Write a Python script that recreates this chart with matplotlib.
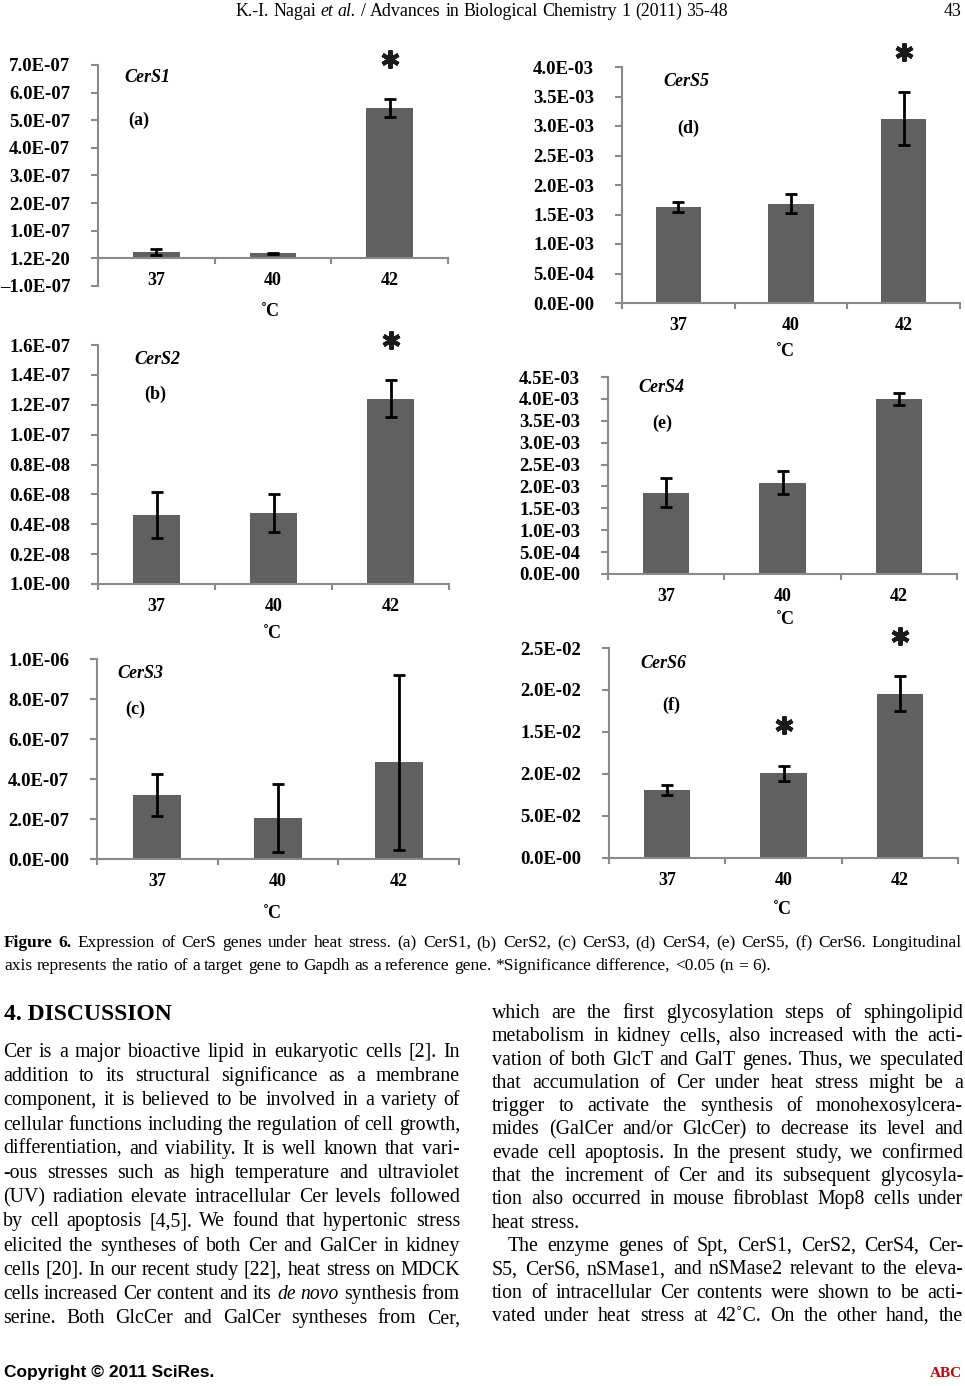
import numpy as np
import matplotlib.pyplot as plt
from matplotlib.transforms import offset_copy

plt.rcParams['font.family'] = 'Liberation Serif'

W, H = 965, 1386
fig = plt.figure(figsize=(W / 100, H / 100), dpi=100)
renderer = fig.canvas.get_renderer()


def fx(x):
    return x / W


def fy(y):
    return 1 - y / H


# ---------------- data ----------------
temps = ['37', '40', '42']

cers1_mean = [2.3e-8, 1.8e-8, 5.43e-7]
cers1_err = [1.2e-8, 0.25e-8, 3.3e-8]
cers1_sig = [False, False, True]
cers1_yticks = [-1e-7, 0, 1e-7, 2e-7, 3e-7, 4e-7, 5e-7, 6e-7, 7e-7]
cers1_ylabels = ['–1.0E-07', '1.2E-20', '1.0E-07', '2.0E-07', '3.0E-07',
                 '4.0E-07', '5.0E-07', '6.0E-07', '7.0E-07']

cers2_mean = [4.6e-8, 4.73e-8, 1.24e-7]
cers2_err = [1.53e-8, 1.27e-8, 1.23e-8]
cers2_sig = [False, False, True]
cers2_yticks = [0, 0.2e-7, 0.4e-7, 0.6e-7, 0.8e-7, 1.0e-7, 1.2e-7, 1.4e-7, 1.6e-7]
cers2_ylabels = ['1.0E-00', '0.2E-08', '0.4E-08', '0.6E-08', '0.8E-08',
                 '1.0E-07', '1.2E-07', '1.4E-07', '1.6E-07']

cers3_mean = [3.22e-7, 2.05e-7, 4.83e-7]
cers3_err = [1.05e-7, 1.7e-7, 4.37e-7]
cers3_sig = [False, False, False]
cers3_yticks = [0, 2e-7, 4e-7, 6e-7, 8e-7, 1e-6]
cers3_ylabels = ['0.0E-00', '2.0E-07', '4.0E-07', '6.0E-07', '8.0E-07', '1.0E-06']

cers5_mean = [1.63e-3, 1.68e-3, 3.12e-3]
cers5_err = [0.09e-3, 0.16e-3, 0.45e-3]
cers5_sig = [False, False, True]
cers5_yticks = [0, 0.5e-3, 1.0e-3, 1.5e-3, 2.0e-3, 2.5e-3, 3.0e-3, 3.5e-3, 4.0e-3]
cers5_ylabels = ['0.0E-00', '5.0E-04', '1.0E-03', '1.5E-03', '2.0E-03',
                 '2.5E-03', '3.0E-03', '3.5E-03', '4.0E-03']

cers4_mean = [1.86e-3, 2.09e-3, 3.99e-3]
cers4_err = [0.33e-3, 0.26e-3, 0.14e-3]
cers4_sig = [False, False, False]
cers4_yticks = [0, 0.5e-3, 1.0e-3, 1.5e-3, 2.0e-3, 2.5e-3, 3.0e-3, 3.5e-3, 4.0e-3, 4.5e-3]
cers4_ylabels = ['0.0E-00', '5.0E-04', '1.0E-03', '1.5E-03', '2.0E-03',
                 '2.5E-03', '3.0E-03', '3.5E-03', '4.0E-03', '4.5E-03']

cers6_mean = [0.81e-2, 1.01e-2, 1.955e-2]
cers6_err = [0.065e-2, 0.09e-2, 0.21e-2]
cers6_sig = [False, True, True]
cers6_yticks = [0, 0.5e-2, 1.0e-2, 1.5e-2, 2.0e-2, 2.5e-2]
cers6_ylabels = ['0.0E-00', '5.0E-02', '2.0E-02', '1.5E-02', '2.0E-02', '2.5E-02']

BAR = '#606060'
AXIS = '#8a8a8a'

# panel layout: axes box in page pixels (left, top, right, bottom), label spots
panels = [
    dict(name='CerS1', tag='(a)', mean=cers1_mean, err=cers1_err, sig=cers1_sig,
         yticks=cers1_yticks, ylabels=cers1_ylabels, box=(98, 65, 448, 286),
         name_xy=(147, 78), tag_xy=(139, 120), unit_xy=(270, 312)),
    dict(name='CerS2', tag='(b)', mean=cers2_mean, err=cers2_err, sig=cers2_sig,
         yticks=cers2_yticks, ylabels=cers2_ylabels, box=(98, 345, 449, 584),
         name_xy=(157, 359), tag_xy=(155, 394), unit_xy=(272, 633)),
    dict(name='CerS3', tag='(c)', mean=cers3_mean, err=cers3_err, sig=cers3_sig,
         yticks=cers3_yticks, ylabels=cers3_ylabels, box=(97, 659, 459, 859),
         name_xy=(140, 673), tag_xy=(135, 709), unit_xy=(272, 913)),
    dict(name='CerS5', tag='(d)', mean=cers5_mean, err=cers5_err, sig=cers5_sig,
         yticks=cers5_yticks, ylabels=cers5_ylabels, box=(622, 67, 960, 303),
         name_xy=(686, 82), tag_xy=(688, 128), unit_xy=(785, 352)),
    dict(name='CerS4', tag='(e)', mean=cers4_mean, err=cers4_err, sig=cers4_sig,
         yticks=cers4_yticks, ylabels=cers4_ylabels, box=(608, 377, 957, 574),
         name_xy=(661, 388), tag_xy=(662, 423), unit_xy=(785, 620)),
    dict(name='CerS6', tag='(f)', mean=cers6_mean, err=cers6_err, sig=cers6_sig,
         yticks=cers6_yticks, ylabels=cers6_ylabels, box=(609, 648, 958, 858),
         name_xy=(663, 664), tag_xy=(671, 705), unit_xy=(782, 910)),
]

for p in panels:
    l, t, r, b = p['box']
    ax = fig.add_axes([fx(l), fy(b), (r - l) / W, (b - t) / H])
    ax.patch.set_alpha(0)
    # spines first: moving the bottom spine resets the ticks
    for s in ['top', 'right']:
        ax.spines[s].set_visible(False)
    for s in ['left', 'bottom']:
        ax.spines[s].set_color(AXIS)
        ax.spines[s].set_linewidth(1.5)
    ax.spines['bottom'].set_position(('data', 0))

    x = np.arange(len(temps))
    ax.bar(x, p['mean'], width=0.4, color=BAR, zorder=2)
    ax.errorbar(x, p['mean'], yerr=p['err'], fmt='none', ecolor='black',
                elinewidth=2, capsize=4.5, capthick=2, zorder=3)
    ax.set_xlim(-0.5, 2.5)
    ax.set_ylim(p['yticks'][0], p['yticks'][-1])
    ax.set_yticks(p['yticks'])
    ax.set_yticklabels(p['ylabels'], fontweight='bold')
    ax.set_xticks(x)
    ax.set_xticklabels(temps, fontweight='bold')
    ax.set_xticks([-0.5, 0.5, 1.5, 2.5], minor=True)
    ax.tick_params(axis='x', which='major', length=0, pad=10, labelsize=13)
    ax.tick_params(axis='x', which='minor', length=4, width=1.5, color=AXIS)
    ax.tick_params(axis='y', length=5, width=1.5, color=AXIS, pad=15, labelsize=13.5)

    # significance asterisks above the error bars
    star_tr = offset_copy(ax.transData, fig=fig, y=29, units='points')
    for i, s in enumerate(p['sig']):
        if s:
            ax.plot(i, p['mean'][i] + p['err'][i], marker=(6, 2, 0), ms=13,
                    mew=3, color='#1a1a1a', transform=star_tr, clip_on=False)

    fig.text(fx(p['name_xy'][0]), fy(p['name_xy'][1]), p['name'], style='italic',
             weight='bold', fontsize=13, ha='center', va='center')
    fig.text(fx(p['tag_xy'][0]), fy(p['tag_xy'][1]), p['tag'], weight='bold',
             fontsize=13, ha='center', va='center')
    fig.text(fx(p['unit_xy'][0]), fy(p['unit_xy'][1]), '˚C', weight='bold',
             fontsize=13, ha='center', va='center')


# ---------------- page text ----------------
def parse(word):
    if word.startswith('§'):
        return word[1:], dict(weight='bold')
    if word.startswith('_'):
        return word[1:], dict(style='italic')
    return word, {}


def width_of(s, size, **kw):
    t = fig.text(0, 0, s, fontsize=size, **kw)
    w = t.get_window_extent(renderer).width
    t.remove()
    return w


def natural(line, size):
    words = [parse(w) for w in line.split()]
    sp = width_of('a a', size) - width_of('aa', size)
    return sum(width_of(w, size, **k) for w, k in words) + sp * (len(words) - 1)


def draw_line(line, x0, x1, y, size, justify=True, align='left', **extra):
    words = [parse(w) for w in line.split()]
    ws = [width_of(w, size, **k, **extra) for w, k in words]
    sp = width_of('a a', size, **extra) - width_of('aa', size, **extra)
    if justify and len(words) > 1:
        gap = (x1 - x0 - sum(ws)) / (len(words) - 1)
    else:
        gap = sp
    total = sum(ws) + gap * (len(words) - 1)
    if align == 'center':
        x = (x0 + x1) / 2 - total / 2
    elif align == 'right':
        x = x1 - total
    else:
        x = x0
    for (w, k), wd in zip(words, ws):
        fig.text(fx(x), fy(y), w, fontsize=size, ha='left', va='baseline', **k, **extra)
        x += wd + gap


# header
header = "K.-I. Nagai _et _al. / Advances in Biological Chemistry 1 (2011) 35-48"
hsize = 12 * 493 / natural(header, 12)
draw_line(header, 235, 728, 16, hsize, justify=False, align='center')
fig.text(fx(962), fy(16), '43', fontsize=hsize, ha='right', va='baseline')

# caption
cap1 = ("§Figure §6. Expression of CerS genes under heat stress. (a) CerS1, (b) CerS2, "
        "(c) CerS3, (d) CerS4, (e) CerS5, (f) CerS6. Longitudinal")
cap2 = ("axis represents the ratio of a target gene to Gapdh as a reference gene. "
        "*Significance difference, <0.05 (n = 6).")
csize = min(12.5, 12.5 * 950 / natural(cap1, 12.5))
draw_line(cap1, 4, 962, 947, csize)
draw_line(cap2, 4, 962, 970, csize, justify=False)

# section heading
fig.text(fx(4), fy(1020), '4. DISCUSSION', fontsize=17, weight='bold', ha='left', va='baseline')

left_lines = [
    "Cer is a major bioactive lipid in eukaryotic cells [2]. In",
    "addition to its structural significance as a membrane",
    "component, it is believed to be involved in a variety of",
    "cellular functions including the regulation of cell growth,",
    "differentiation, and viability. It is well known that vari-",
    "-ous stresses such as high temperature and ultraviolet",
    "(UV) radiation elevate intracellular Cer levels followed",
    "by cell apoptosis [4,5]. We found that hypertonic stress",
    "elicited the syntheses of both Cer and GalCer in kidney",
    "cells [20]. In our recent study [22], heat stress on MDCK",
    "cells increased Cer content and its _de _novo synthesis from",
    "serine. Both GlcCer and GalCer syntheses from Cer,",
]
right_lines = [
    "which are the first glycosylation steps of sphingolipid",
    "metabolism in kidney cells, also increased with the acti-",
    "vation of both GlcT and GalT genes. Thus, we speculated",
    "that accumulation of Cer under heat stress might be a",
    "trigger to activate the synthesis of monohexosylcera-",
    "mides (GalCer and/or GlcCer) to decrease its level and",
    "evade cell apoptosis. In the present study, we confirmed",
    "that the increment of Cer and its subsequent glycosyla-",
    "tion also occurred in mouse fibroblast Mop8 cells under",
    "heat stress.",
    "The enzyme genes of Spt, CerS1, CerS2, CerS4, Cer-",
    "S5, CerS6, nSMase1, and nSMase2 relevant to the eleva-",
    "tion of intracellular Cer contents were shown to be acti-",
    "vated under heat stress at 42˚C. On the other hand, the",
]

body = []
for i, line in enumerate(left_lines):
    body.append((line, 3, 460, 1052 + i * 24.2 + 5, True))
for i, line in enumerate(right_lines):
    x0 = 508 if i == 10 else 492
    body.append((line, x0, 963, 1013 + i * 23.3 + 5, i != 9))

base = 14.5
ratios = sorted((x1 - x0) / natural(line, base) for line, x0, x1, y, j in body if j)
bsize = base * min(1.0, ratios[2] * 0.995)
for line, x0, x1, y, j in body:
    size = bsize
    if j:
        size = min(bsize, base * (x1 - x0) / natural(line, base) * 0.995)
    draw_line(line, x0, x1, y, size, justify=j)

# footer
fig.text(fx(4), fy(1377), 'Copyright © 2011 SciRes.', family='Liberation Sans',
         weight='bold', fontsize=12.5, ha='left', va='baseline')
fig.text(fx(962), fy(1377), 'ABC', color='#cc0000', weight='bold', fontsize=11,
         ha='right', va='baseline')

fig.savefig('out.png', dpi=100)
